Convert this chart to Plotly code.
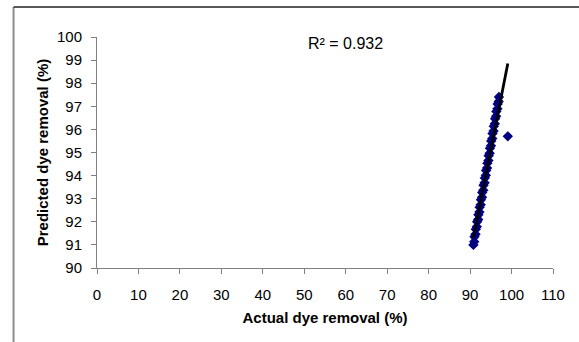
import numpy as np
import plotly.graph_objects as go

# Actual vs predicted dye removal (%)
actual = [90.80, 91.00, 91.05, 91.30, 91.38, 91.62, 91.70, 91.95, 92.00, 92.25,
          92.30, 92.55, 92.62, 92.88, 92.92, 93.18, 93.24, 93.50, 93.55, 93.80,
          93.86, 94.10, 94.17, 94.42, 94.48, 94.72, 94.79, 95.04, 95.10, 95.35,
          95.41, 95.66, 95.72, 95.97, 96.03, 96.28, 96.34, 96.59, 96.65, 96.90,
          96.96, 99.10]
predicted = [91.00, 91.14, 91.35, 91.46, 91.68, 91.79, 92.00, 92.10, 92.30, 92.42,
             92.63, 92.74, 92.95, 93.06, 93.27, 93.37, 93.58, 93.69, 93.90, 94.01,
             94.22, 94.33, 94.54, 94.65, 94.86, 94.97, 95.18, 95.29, 95.50, 95.61,
             95.82, 95.93, 96.14, 96.25, 96.46, 96.57, 96.78, 96.89, 97.10, 97.21,
             97.40, 95.70]
r2_label = "R² = 0.932"
x_ticks = [0, 10, 20, 30, 40, 50, 60, 70, 80, 90, 100, 110]
y_ticks = [90, 91, 92, 93, 94, 95, 96, 97, 98, 99, 100]

# linear trendline (least squares) over the data's x range
coef = np.polyfit(actual, predicted, 1)
tx = np.array([min(actual), max(actual)])
ty = np.polyval(coef, tx)

FONT = "Liberation Sans, Arial, sans-serif"

fig = go.Figure()
fig.add_trace(go.Scatter(
    x=actual, y=predicted, mode="markers",
    marker=dict(symbol="diamond", size=8, color="#000080",
                line=dict(width=0)),
    showlegend=False, cliponaxis=False))
fig.add_trace(go.Scatter(
    x=tx, y=ty, mode="lines",
    line=dict(color="black", width=2.8),
    showlegend=False, cliponaxis=False))

fig.add_annotation(x=60, y=99.74, xref="x", yref="y", text=r2_label,
                   showarrow=False, font=dict(family=FONT, size=16, color="black"))

axis_common = dict(showgrid=False, zeroline=False, showline=True,
                   linecolor="#808080", linewidth=1, ticks="outside",
                   tickcolor="#808080", ticklen=5, tickwidth=1,
                   tickfont=dict(family=FONT, size=15, color="black"),
                   mirror=False)
fig.update_xaxes(range=[0, 110], tickvals=x_ticks, ticklabelstandoff=8,
                 **axis_common,
                 title=dict(text="<b>Actual dye removal (%)</b>",
                            font=dict(family=FONT, size=15, color="black"),
                            standoff=10))
fig.update_yaxes(range=[90, 100], tickvals=y_ticks, ticklabelstandoff=6,
                 **axis_common,
                 title=dict(text="<b>Predicted dye removal (%)</b>",
                            font=dict(family=FONT, size=15, color="black"),
                            standoff=4))

# outer chart frame (left and top edges visible)
fig.add_shape(type="line", xref="paper", yref="paper",
              x0=-0.183, x1=-0.183, y0=-0.35, y1=1.13,
              line=dict(color="#8c8c8c", width=2))
fig.add_shape(type="line", xref="paper", yref="paper",
              x0=-0.183, x1=1.1, y0=1.13, y1=1.13,
              line=dict(color="#222222", width=1.5))

fig.update_layout(width=579, height=342,
                  margin=dict(l=96.5, r=26.3, t=37, b=73.5),
                  plot_bgcolor="white", paper_bgcolor="white",
                  font=dict(family=FONT))
fig.write_html("out.html")
